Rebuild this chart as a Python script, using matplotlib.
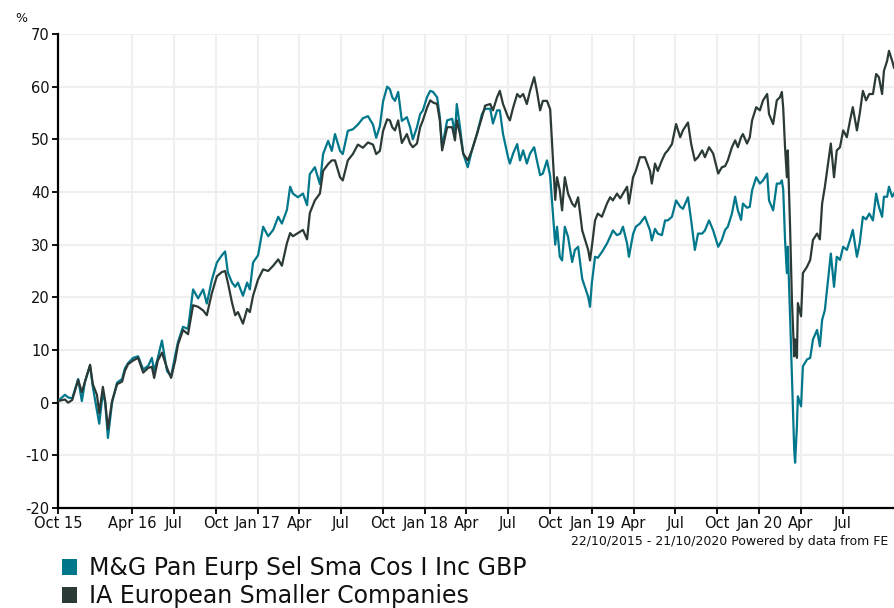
import numpy as np
import pandas as pd
import matplotlib
matplotlib.use("Agg")
import matplotlib.pyplot as plt
import matplotlib.dates as mdates
from matplotlib.patches import Patch

# Tarih ekseni: 22/10/2015 baslangicindan itibaren gun sayisi
start_date = "2015-10-22"
end_date = "2020-10-21"

day_offsets = [
    0, 15, 22, 31, 44, 52, 59, 70, 76, 85, 90, 98, 103, 109, 118, 129, 140, 146, 153, 164,
    175, 186, 197, 205, 210, 218, 227, 238, 247, 256, 262, 273, 284, 295, 306, 317, 325, 336, 347, 358,
    365, 371, 380, 387, 393, 404, 413, 419, 426, 437, 448, 459, 470, 481, 489, 500, 507, 513, 524, 535,
    544, 550, 561, 572, 579, 590, 598, 605, 616, 622, 633, 644, 655, 666, 677, 688, 695, 703, 710, 719,
    725, 730, 736, 743, 751, 762, 769, 775, 784, 791, 797, 806, 813, 819, 828, 834, 839, 850, 861, 867,
    871, 878, 885, 895, 904, 915, 926, 933, 944, 950, 959, 965, 972, 983, 987, 994, 1003, 1009, 1016, 1024,
    1031, 1040, 1046, 1053, 1059, 1068, 1075, 1081, 1086, 1090, 1096, 1101, 1107, 1114, 1123, 1129, 1136, 1145, 1158, 1162,
    1166, 1173, 1179, 1188, 1199, 1206, 1212, 1221, 1228, 1234, 1243, 1247, 1256, 1262, 1271, 1282, 1293, 1297, 1304, 1310,
    1319, 1326, 1332, 1341, 1350, 1359, 1365, 1376, 1383, 1391, 1398, 1407, 1413, 1422, 1431, 1442, 1450, 1457, 1463, 1472,
    1479, 1485, 1492, 1496, 1505, 1511, 1516, 1525, 1533, 1540, 1549, 1553, 1562, 1570, 1577, 1581, 1584, 1588, 1592, 1594,
    1599, 1603, 1608, 1610, 1614, 1616, 1623, 1627, 1636, 1643, 1649, 1658, 1664, 1669, 1675, 1682, 1688, 1695, 1701, 1708,
    1715, 1723, 1730, 1736, 1745, 1751, 1758, 1765, 1772, 1780, 1787, 1793, 1800, 1804, 1811, 1815, 1822, 1826,
]

# M&G Pan Eurp Sel Sma Cos I Inc GBP (%)
fund_values = [
    0.3, 1.5, 1.0, 0.8, 4.5, 0.3, 4.0, 7.0, 3.0, -1.5, -4.0, 2.0, 0.0, -6.7, 0.0, 3.8, 4.5, 6.5, 7.5, 8.5,
    8.8, 6.3, 7.0, 8.5, 6.0, 8.5, 11.8, 6.0, 5.0, 9.0, 11.5, 14.4, 14.0, 21.5, 19.8, 21.5, 18.8, 23.3, 26.6, 28.0,
    28.7, 24.7, 22.8, 22.0, 22.8, 20.3, 22.8, 21.5, 26.6, 28.0, 33.4, 31.6, 32.8, 35.3, 34.0, 36.6, 41.0, 39.7, 39.0, 39.7,
    37.5, 43.4, 44.7, 41.5, 47.2, 49.7, 47.8, 51.0, 47.8, 47.2, 51.6, 51.9, 52.8, 54.0, 54.4, 52.8, 50.3, 52.5, 57.2, 60.0,
    59.5, 58.0, 57.3, 59.0, 53.5, 54.2, 52.3, 50.0, 52.3, 54.8, 55.5, 58.0, 59.2, 59.0, 58.0, 54.2, 48.5, 53.6, 53.9, 51.0,
    56.7, 52.3, 47.3, 44.7, 47.9, 51.0, 54.8, 55.8, 55.8, 53.0, 55.5, 55.5, 51.0, 46.6, 45.4, 47.3, 49.1, 46.0, 47.9, 45.4,
    47.3, 48.5, 46.0, 43.2, 43.5, 46.0, 43.0, 36.0, 30.0, 33.4, 27.7, 27.0, 33.4, 31.5, 26.7, 29.0, 29.6, 23.5, 20.1, 18.2,
    22.7, 27.7, 27.5, 28.6, 30.2, 31.5, 32.7, 31.8, 32.1, 33.4, 30.2, 27.7, 32.0, 33.4, 34.0, 35.3, 32.7, 30.8, 33.0, 32.1,
    31.8, 34.6, 34.6, 35.3, 38.4, 37.2, 36.8, 39.0, 34.6, 29.0, 32.1, 32.1, 32.7, 34.6, 32.7, 29.6, 30.9, 32.8, 33.4, 35.9,
    39.1, 36.5, 34.7, 37.8, 37.0, 37.2, 40.3, 42.8, 41.6, 42.2, 43.5, 38.4, 36.5, 41.6, 41.6, 42.2, 40.5, 30.9, 24.6, 29.6,
    16.4, 5.0, -8.9, -11.4, -4.4, 1.2, -0.7, 6.9, 8.2, 8.5, 12.0, 13.8, 10.7, 15.7, 17.6, 23.3, 28.3, 22.0, 27.7, 27.1,
    29.6, 29.0, 30.9, 32.8, 27.7, 30.2, 35.3, 34.8, 35.9, 34.6, 39.7, 37.2, 35.3, 39.1, 39.1, 41.0, 39.1, 39.7,
]

# IA European Smaller Companies (%)
sector_values = [
    0.3, 0.6, 0.0, 0.5, 4.3, 2.0, 4.0, 7.2, 3.5, 1.5, -2.0, 3.0, 0.3, -5.0, 0.3, 3.5, 4.0, 6.0, 7.3, 8.0,
    8.5, 5.7, 6.6, 6.8, 4.7, 8.0, 9.5, 6.6, 4.7, 8.0, 11.0, 13.8, 13.0, 18.5, 18.2, 17.5, 16.6, 20.8, 24.0, 24.8,
    25.0, 22.8, 19.0, 16.6, 17.2, 15.0, 17.8, 17.2, 20.3, 23.4, 25.3, 25.0, 26.0, 27.2, 26.0, 30.3, 32.2, 31.6, 32.2, 32.8,
    31.0, 36.0, 38.4, 39.7, 44.0, 45.3, 46.0, 46.0, 42.8, 42.2, 46.0, 47.2, 49.0, 48.4, 49.4, 49.0, 47.2, 47.8, 51.6, 53.8,
    53.6, 52.3, 51.7, 53.6, 49.3, 51.0, 49.2, 48.5, 49.2, 52.3, 53.6, 56.0, 57.4, 57.0, 56.7, 53.6, 47.9, 52.3, 52.3, 49.8,
    53.6, 51.0, 47.3, 46.0, 47.9, 51.0, 54.2, 56.4, 56.7, 55.5, 58.0, 59.2, 56.7, 54.2, 53.6, 56.0, 58.6, 58.0, 58.6, 56.7,
    59.2, 61.8, 59.2, 55.5, 57.3, 57.3, 55.7, 46.3, 38.5, 42.8, 40.3, 36.5, 42.8, 39.7, 37.8, 37.2, 39.0, 32.7, 29.0, 27.0,
    29.6, 34.6, 35.9, 35.3, 37.8, 39.0, 38.4, 39.7, 38.8, 39.7, 41.0, 37.8, 42.8, 44.0, 46.6, 46.6, 44.0, 41.6, 45.4, 44.0,
    46.0, 47.3, 47.9, 49.1, 52.9, 50.4, 51.7, 53.2, 49.1, 46.0, 46.6, 47.9, 46.6, 48.5, 47.3, 43.5, 44.7, 44.9, 46.0, 48.5,
    49.8, 48.5, 50.4, 51.0, 49.2, 50.4, 53.6, 56.1, 55.5, 57.4, 58.6, 54.8, 52.9, 57.4, 58.0, 59.0, 56.0, 48.5, 42.8, 47.9,
    33.4, 19.5, 8.8, 12.0, 8.5, 18.9, 16.4, 24.6, 25.8, 27.1, 30.9, 32.1, 31.0, 37.8, 41.0, 45.4, 49.2, 42.8, 47.9, 48.5,
    51.7, 50.4, 53.6, 56.1, 51.7, 54.8, 59.2, 57.4, 58.6, 58.6, 62.4, 61.8, 58.6, 63.0, 64.9, 66.8, 64.9, 63.6,
]

series_names = ["M&G Pan Eurp Sel Sma Cos I Inc GBP", "IA European Smaller Companies"]
series_colors = ["#00778b", "#2c3a37"]

tick_dates = [
    "2015-10-22", "2016-04-01", "2016-07-01", "2016-10-01", "2017-01-01", "2017-04-01", "2017-07-01",
    "2017-10-01", "2018-01-01", "2018-04-01", "2018-07-01", "2018-10-01", "2019-01-01", "2019-04-01",
    "2019-07-01", "2019-10-01", "2020-01-01", "2020-04-01", "2020-07-01",
]
tick_labels = [
    "Oct 15", "Apr 16", "Jul", "Oct", "Jan 17", "Apr", "Jul", "Oct", "Jan 18", "Apr", "Jul",
    "Oct", "Jan 19", "Apr", "Jul", "Oct", "Jan 20", "Apr", "Jul",
]
y_ticks = [-20, -10, 0, 10, 20, 30, 40, 50, 60, 70]

dates = pd.Timestamp(start_date) + pd.to_timedelta(day_offsets, unit="D")

plt.rcParams['font.family'] = ['DejaVu Sans']
plt.rcParams['axes.unicode_minus'] = False

fig = plt.figure(figsize=(8.94, 6.08), dpi=100)
ax = fig.add_axes([0.0649, 0.1645, 0.9351, 0.7796])

ax.plot(dates, fund_values, color=series_colors[0], linewidth=1.6, zorder=3)
ax.plot(dates, sector_values, color=series_colors[1], linewidth=1.6, zorder=4)

ax.set_xlim(pd.Timestamp(start_date), pd.Timestamp(end_date))
ax.set_ylim(-20, 70)
ax.set_yticks(y_ticks)
ax.set_xticks(pd.to_datetime(tick_dates))
ax.set_xticklabels(tick_labels)

ax.grid(True, color="#efefef", linewidth=1.5, zorder=0)
ax.set_axisbelow(True)
for s in ["top", "right"]:
    ax.spines[s].set_visible(False)
for s in ["left", "bottom"]:
    ax.spines[s].set_linewidth(1.6)
    ax.spines[s].set_color("black")
ax.tick_params(axis="both", direction="out", length=4, width=1.3, colors="black",
               labelsize=10.5, labelcolor="#111111")
ax.tick_params(axis="x", pad=2)
ax.tick_params(axis="y", pad=2)

fig.text(15 / 894, 1 - 18 / 608, "%", fontsize=9, ha="left", va="center", color="#111111")
fig.text(888 / 894, 1 - 541 / 608, "22/10/2015 - 21/10/2020 Powered by data from FE",
         fontsize=9, ha="right", va="center", color="#111111")

handles = [Patch(facecolor=c, edgecolor="none") for c in series_colors]
fig.legend(handles, series_names, loc="upper left", bbox_to_anchor=(48 / 894, 1 - 542 / 608),
           frameon=False, fontsize=17, handlelength=0.64, handleheight=0.64,
           handletextpad=0.5, labelspacing=0.18, borderpad=0.1, labelcolor="#111111")

plt.savefig("out.png", dpi=100)
plt.close()
